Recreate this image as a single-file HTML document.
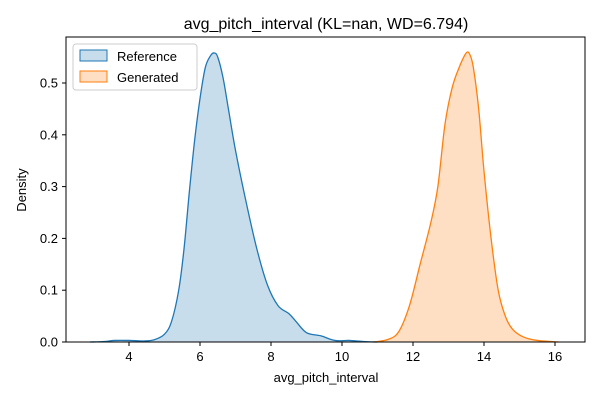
<!DOCTYPE html>
<html><head><meta charset="utf-8"><style>
body{margin:0;background:#fff;}
svg text{font-family:"Liberation Sans","DejaVu Sans",sans-serif;fill:#000;}
</style></head><body>
<svg id="chart" width="600" height="400" xmlns="http://www.w3.org/2000/svg">
<rect width="600" height="400" fill="#fff"/>
<text x="326" y="29" font-size="16" text-anchor="middle">avg_pitch_interval (KL=nan, WD=6.794)</text>
<g id="marks"></g>
<rect x="66" y="37" width="519" height="305" fill="none" stroke="#000" stroke-width="1"/>
<g id="axes"></g>
<text x="326" y="382" font-size="13" text-anchor="middle">avg_pitch_interval</text>
<text x="26" y="190" font-size="13" text-anchor="middle" transform="rotate(-90 26 190)">Density</text>
<g>
<rect x="73" y="44" width="124" height="46" rx="3" fill="#fff" fill-opacity="0.8" stroke="#ccc"/>
<g>
<rect x="80" y="50" width="27" height="11" fill="#1f77b4" fill-opacity="0.25" stroke="#1f77b4"/>
<text x="117" y="61" font-size="13">Reference</text></g>
<g>
<rect x="80" y="71" width="27" height="11" fill="#ff7f0e" fill-opacity="0.25" stroke="#ff7f0e"/>
<text x="117" y="82" font-size="13">Generated</text></g>
</g>
</svg>
<script>
const refX=[2.9,3.3,3.6,4.0,4.4,4.7,5.0,5.2,5.4,5.55,5.7,5.85,6.0,6.15,6.3,6.4,6.5,6.65,6.8,7.0,7.3,7.6,7.9,8.2,8.5,8.7,9.0,9.4,9.8,10.2,10.6,11.0];
const refY=[0,0.001,0.003,0.003,0.002,0.004,0.015,0.04,0.1,0.18,0.29,0.39,0.47,0.53,0.553,0.558,0.55,0.51,0.45,0.37,0.27,0.18,0.11,0.07,0.055,0.04,0.018,0.012,0.003,0.003,0.001,0];
const genX=[10.9,11.3,11.6,11.9,12.2,12.5,12.7,12.9,13.1,13.3,13.5,13.6,13.7,13.85,14.0,14.2,14.4,14.6,14.8,15.1,15.5,16.1];
const genY=[0,0.005,0.02,0.07,0.15,0.23,0.3,0.42,0.49,0.53,0.558,0.555,0.53,0.45,0.33,0.2,0.1,0.05,0.025,0.01,0.003,0];
const xTicks=[4,6,8,10,12,14,16];
const yTicks=[0,0.1,0.2,0.3,0.4,0.5];
const X=v=>-13+35.5*v, Y=v=>342-518*v;
const NS="http://www.w3.org/2000/svg";
const marks=document.getElementById('marks'), axes=document.getElementById('axes');
function smooth(xs,ys){let pts=xs.map((x,i)=>[X(x),Y(ys[i])]);let d=`M${pts[0][0]},${pts[0][1]}`;
for(let i=0;i<pts.length-1;i++){const p0=pts[i-1]||pts[i],p1=pts[i],p2=pts[i+1],p3=pts[i+2]||p2;
d+=` C${p1[0]+(p2[0]-p0[0])/6},${p1[1]+(p2[1]-p0[1])/6} ${p2[0]-(p3[0]-p1[0])/6},${p2[1]-(p3[1]-p1[1])/6} ${p2[0]},${p2[1]}`;}return d;}
function series(xs,ys,c,name){
const a=document.createElementNS(NS,'path');a.setAttribute('d',smooth(xs,ys)+` L${X(xs[xs.length-1])},${Y(0)} L${X(xs[0])},${Y(0)}Z`);
a.setAttribute('fill',c);a.setAttribute('fill-opacity','0.25');


marks.appendChild(a);
const l=document.createElementNS(NS,'path');l.setAttribute('d',smooth(xs,ys));l.setAttribute('fill','none');l.setAttribute('stroke',c);l.setAttribute('stroke-width','1.3');


marks.appendChild(l);}
series(refX,refY,'#1f77b4','reference');
series(genX,genY,'#ff7f0e','generated');
xTicks.forEach(t=>{const x=X(t);
const ln=document.createElementNS(NS,'line');ln.setAttribute('x1',x);ln.setAttribute('x2',x);ln.setAttribute('y1',342);ln.setAttribute('y2',346);ln.setAttribute('stroke','#000');


axes.appendChild(ln);
const tx=document.createElementNS(NS,'text');tx.setAttribute('x',x);tx.setAttribute('y',361);tx.setAttribute('font-size','13');tx.setAttribute('text-anchor','middle');tx.textContent=t;


axes.appendChild(tx);});
yTicks.forEach(t=>{const y=Y(t);
const ln=document.createElementNS(NS,'line');ln.setAttribute('x1',62);ln.setAttribute('x2',66);ln.setAttribute('y1',y);ln.setAttribute('y2',y);ln.setAttribute('stroke','#000');


axes.appendChild(ln);
const tx=document.createElementNS(NS,'text');tx.setAttribute('x',58);tx.setAttribute('y',y+4.5);tx.setAttribute('font-size','13');tx.setAttribute('text-anchor','end');tx.textContent=t.toFixed(1);


axes.appendChild(tx);});
</script>
</body></html>
